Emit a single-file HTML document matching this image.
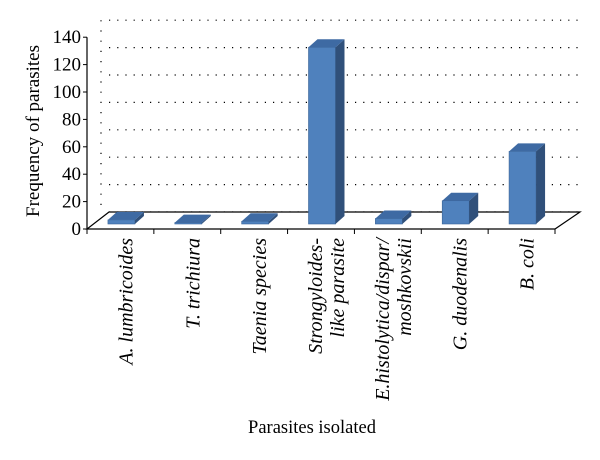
<!DOCTYPE html>
<html><head><meta charset="utf-8"><style>body{margin:0;background:#fff}svg{display:block}</style></head>
<body>
<svg id="c" width="600" height="460" xmlns="http://www.w3.org/2000/svg" font-family="Liberation Serif, serif"></svg>
<script>
const categories=[["A. lumbricoides"],["T. trichiura"],["Taenia species"],["Strongyloides-","like parasite"],["E.histolytica/dispar/","moshkovskii"],["G. duodenalis"],["B. coli"]];
const values=[3,1,2,129,4,17,53];
const ticks=[0,20,40,60,80,100,120,140];
const NS="http://www.w3.org/2000/svg",svg=document.getElementById('c');
function el(t,a,txt){const e=document.createElementNS(NS,t);for(const k in a)e.setAttribute(k,a[k]);if(txt!=null)e.textContent=txt;svg.appendChild(e);return e;}
const x0=87,x1=555,y0=229,pxPer=27.4/20,dx=22,dy=-17;
const yS=v=>y0-v*pxPer;
const band=(x1-x0)/categories.length;
ticks.forEach(t=>{const g=el('line',{x1:x0+dx,x2:x1+dx+3,y1:yS(t)+dy,y2:yS(t)+dy,stroke:'#000','stroke-width':1.2,'stroke-dasharray':'1.2 7'});
});
el('line',{x1:x0+dx-8,x2:x0+dx-8,y1:yS(140)+dy,y2:y0+dy,stroke:'#000','stroke-width':1.2,'stroke-dasharray':'1.2 9'});
const fl=el('polygon',{points:`${x0},${y0} ${x1},${y0} ${x1+dx+3},${y0+dy} ${x0+dx},${y0+dy}`,fill:'#fff',stroke:'#000','stroke-width':1.2});

const ya=el('line',{x1:x0,x2:x0,y1:yS(140),y2:y0,stroke:'#000','stroke-width':1.2});

ticks.forEach(t=>{el('line',{x1:x0-4,x2:x0,y1:yS(t),y2:yS(t),stroke:'#000'});
const l=el('text',{x:x0-6,y:yS(t)+6,'text-anchor':'end','font-size':19},t);
});
for(let i=0;i<=categories.length;i++)el('line',{x1:x0+i*band,x2:x0+i*band,y1:y0,y2:y0+5,stroke:'#000'});
const w=27,bdx=9,bdy=-8,base=y0-5;
values.forEach((v,i)=>{const cx=x0+band*(i+0.5)+1,xl=cx-w/2,top=base-v*pxPer;
const g=el('g',{});
const f=document.createElementNS(NS,'rect');f.setAttribute('x',xl);f.setAttribute('y',top);f.setAttribute('width',w);f.setAttribute('height',base-top);f.setAttribute('fill','#4f81bd');f.setAttribute('stroke','#3b6496');f.setAttribute('stroke-width','0.6');g.appendChild(f);
const s=document.createElementNS(NS,'polygon');s.setAttribute('points',`${xl+w},${top} ${xl+w+bdx},${top+bdy} ${xl+w+bdx},${base+bdy} ${xl+w},${base}`);s.setAttribute('fill','#30507a');g.appendChild(s);
const tp=document.createElementNS(NS,'polygon');tp.setAttribute('points',`${xl},${top} ${xl+bdx},${top+bdy} ${xl+w+bdx},${top+bdy} ${xl+w},${top}`);tp.setAttribute('fill','#3e6aa3');g.appendChild(tp);});
categories.forEach((c,i)=>{const cx=x0+band*(i+0.5)+12;
const n=c.length;c.forEach((line,j)=>{const tx=cx-(n-1)*11+j*22;
const t=el('text',{transform:`translate(${tx},238) rotate(-90)`,'text-anchor':'end','font-size':20,'font-style':'italic'},line);
});});
const yt=el('text',{transform:'translate(39,131) rotate(-90)','text-anchor':'middle','font-size':19},'Frequency of parasites');

const xt=el('text',{x:312,y:433,'text-anchor':'middle','font-size':18.5},'Parasites isolated');

</script>
</body></html>
